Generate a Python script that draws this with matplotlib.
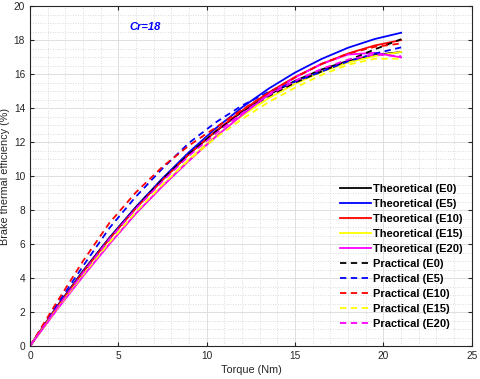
import matplotlib
matplotlib.use("Agg")
import matplotlib.pyplot as plt
from matplotlib.ticker import MultipleLocator

torque = [0, 1.5, 3, 4.5, 6, 7.5, 9, 10.5, 12, 13.5, 15, 16.5, 18, 19.5, 21]

theo_e0 = [0, 2.29, 4.42, 6.38, 8.18, 9.83, 11.30, 12.62, 13.78, 14.77, 15.60, 16.27, 16.78, 17.12, 17.30]
theo_e5 = [0, 2.27, 4.39, 6.36, 8.19, 9.87, 11.41, 12.80, 14.04, 15.14, 16.09, 16.89, 17.55, 18.06, 18.43]
theo_e10 = [0, 2.25, 4.35, 6.31, 8.11, 9.77, 11.28, 12.64, 13.85, 14.91, 15.83, 16.59, 17.21, 17.68, 18.00]
theo_e15 = [0, 2.15, 4.15, 6.05, 7.80, 9.45, 10.98, 12.35, 13.55, 14.58, 15.43, 16.13, 16.68, 17.06, 17.30]
theo_e20 = [0, 2.10, 4.10, 6.00, 7.80, 9.40, 10.90, 12.30, 13.60, 14.80, 15.80, 16.60, 17.15, 17.25, 16.98]

prac_e0 = [0, 2.20, 4.30, 6.30, 8.15, 9.80, 11.30, 12.60, 13.75, 14.70, 15.50, 16.15, 16.80, 17.45, 18.05]
prac_e5 = [0, 2.40, 4.70, 6.95, 8.80, 10.45, 11.95, 13.15, 14.15, 14.95, 15.55, 16.15, 16.75, 17.20, 17.57]
prac_e10 = [0, 2.55, 5.00, 7.25, 9.05, 10.55, 11.80, 12.85, 13.90, 14.90, 15.80, 16.60, 17.20, 17.60, 17.80]
prac_e15 = [0, 2.15, 4.20, 6.10, 7.90, 9.50, 10.95, 12.25, 13.35, 14.35, 15.20, 15.95, 16.55, 16.90, 16.90]
prac_e20 = [0, 2.20, 4.30, 6.30, 8.10, 9.70, 11.20, 12.50, 13.70, 14.75, 15.60, 16.30, 16.85, 17.15, 17.05]

theo_series = [theo_e0, theo_e5, theo_e10, theo_e15, theo_e20]
prac_series = [prac_e0, prac_e5, prac_e10, prac_e15, prac_e20]
blends = ["E0", "E5", "E10", "E15", "E20"]
colors = ["#000000", "#0000FF", "#FF0000", "#FFFF00", "#FF00FF"]

plt.rcParams['font.family'] = ['Liberation Sans', 'DejaVu Sans']

fig = plt.figure(figsize=(4.8, 3.79), dpi=100)
ax = fig.add_axes([0.0625, 0.087, 0.9205, 0.897])

for s, b, c in zip(theo_series, blends, colors):
    ax.plot(torque, s, color=c, lw=1.3, ls='-', label=f"Theoretical ({b})")
for s, b, c in zip(prac_series, blends, colors):
    ax.plot(torque, s, color=c, lw=1.3, ls=(0, (3.5, 2.5)), label=f"Practical ({b})")

ax.set_xlim(0, 25)
ax.set_ylim(0, 20)
ax.xaxis.set_major_locator(MultipleLocator(5))
ax.xaxis.set_minor_locator(MultipleLocator(1))
ax.yaxis.set_major_locator(MultipleLocator(2))
ax.yaxis.set_minor_locator(MultipleLocator(0.5))
ax.grid(which='major', color='#dedede', lw=0.7, ls='-')
ax.grid(which='minor', color='#cfcfcf', lw=0.6, ls=(0, (1, 2)))
ax.set_axisbelow(True)
ax.tick_params(which='both', direction='in', labelsize=7.3, colors='#262626',
               top=True, right=True, length=3)
ax.tick_params(which='minor', length=0)
for sp in ax.spines.values():
    sp.set_color('#262626')
    sp.set_linewidth(0.8)

ax.set_xlabel("Torque (Nm)", fontsize=7.8, color='#262626', labelpad=3)
ax.set_ylabel("Brake thermal efficiency (%)", fontsize=7.8, color='#262626', labelpad=3)

ax.text(6.5, 18.75, "Cr=18", color='#0000FF', fontsize=8, fontweight='bold',
        fontstyle='italic', ha='center', va='center')

leg = ax.legend(loc='lower right', bbox_to_anchor=(0.995, 0.03), frameon=False,
                prop={'weight': 'bold', 'size': 8}, handlelength=2.8,
                handletextpad=0.2, labelspacing=0.45, borderaxespad=0.2)

fig.savefig("out.png", dpi=100)
